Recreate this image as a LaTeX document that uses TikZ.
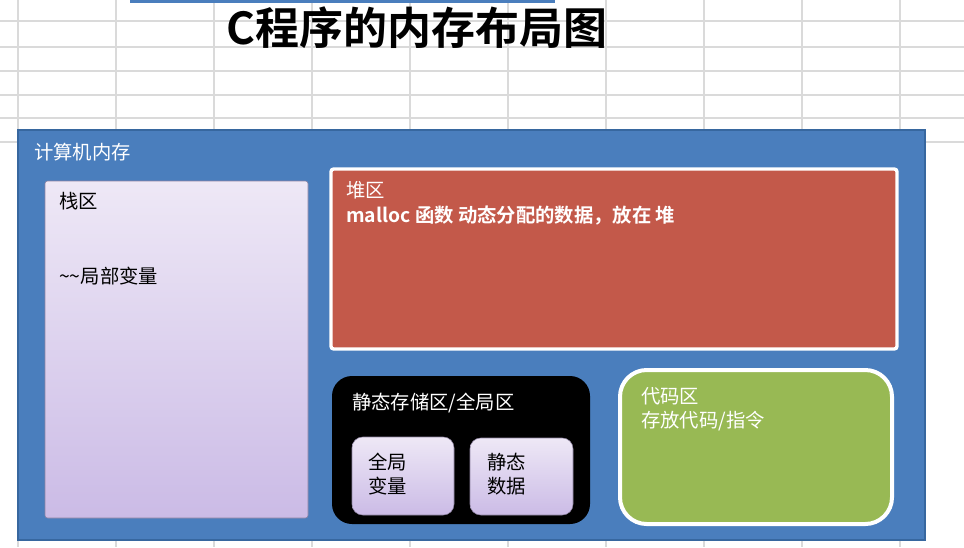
\documentclass[tikz,border=0pt]{standalone}
\usepackage{fontspec}
\setmainfont{Noto Sans CJK SC}[BoldFont={Noto Sans CJK SC Bold}]
\usetikzlibrary{fit,positioning}

\definecolor{gridgray}{HTML}{DADADA}
\definecolor{memblue}{HTML}{4A7EBD}
\definecolor{memedge}{HTML}{37679F}
\definecolor{heapred}{HTML}{C3594A}
\definecolor{codegreen}{HTML}{98B954}
\definecolor{lavtop}{HTML}{EEE8F6}
\definecolor{lavbot}{HTML}{CBBBE6}

\begin{document}
\begin{tikzpicture}[
  x=0.75pt, y=-0.75pt,
  gridline/.style={draw=gridgray, line width=0.8pt},
  region/.style={inner sep=0pt, rounded corners=2pt},
  lavbox/.style={region, top color=lavtop, bottom color=lavbot, draw=lavbot!70!black, line width=0.4pt},
  txt/.style={anchor=west, inner sep=0pt, font=\fontsize{14.5}{17}\selectfont},
  wtxt/.style={txt, text=white}
]
\useasboundingbox[fill=white] (0,0) rectangle (964,547);

% sheet grid behind the picture
\foreach \gy in {21,47,71,95,118,142} \draw[gridline] (0,\gy) -- (964,\gy);
\foreach \gx in {18,116,214,312,410,508,606,704,802,900} \draw[gridline] (\gx,0) -- (\gx,547);
\fill[memblue] (130,0) rectangle (555,3);

\node[font=\fontsize{33}{36}\selectfont\bfseries] (title) at (417,28) {C程序的内存布局图};

% memory frame
\node[region, rounded corners=0pt, fill=memblue, draw=memedge, line width=1.2pt,
      fit={(18,130) (925,540)}] (mem) {};
\node[wtxt] (memlbl) at (34,152) {计算机内存};

% stack
\node[lavbox, fit={(45,181) (308,518)}] (stack) {};
\node[txt] (stacklbl) at (59,201) {栈区};
\node[txt] (stackvar) at (59,276) {\textasciitilde\textasciitilde 局部变量};

% heap
\node[region, fill=heapred, draw=white, line width=2.5pt,
      fit={(331,169) (897,349)}] (heap) {};
\node[wtxt] (heaplbl) at (346,190) {堆区};
\node[wtxt, font=\fontsize{14.5}{17}\selectfont\bfseries] (heaptxt) at (346,216) {malloc 函数 动态分配的数据，放在 堆};

% static / global
\node[region, rounded corners=15pt, fill=black, fit={(332,376) (590,524)}] (static) {};
\node[wtxt] (staticlbl) at (352,403) {静态存储区/全局区};
\node[lavbox, rounded corners=8pt, fit={(352,437) (454,515)}] (gvar) {};
\node[txt, align=left] (gvarlbl) at (368,474) {全局\\[1pt]变量};
\node[lavbox, rounded corners=8pt, fit={(470,438) (573,515)}] (sdata) {};
\node[txt, align=left] (sdatalbl) at (487,474) {静态\\[1pt]数据};

% code
\node[region, rounded corners=20pt, fill=codegreen, draw=white, line width=3pt,
      fit={(620,370) (892,524)}] (code) {};
\node[wtxt] (codelbl) at (641,396) {代码区};
\node[wtxt] (codetxt) at (641,421) {存放代码/指令};
\end{tikzpicture}
\end{document}
